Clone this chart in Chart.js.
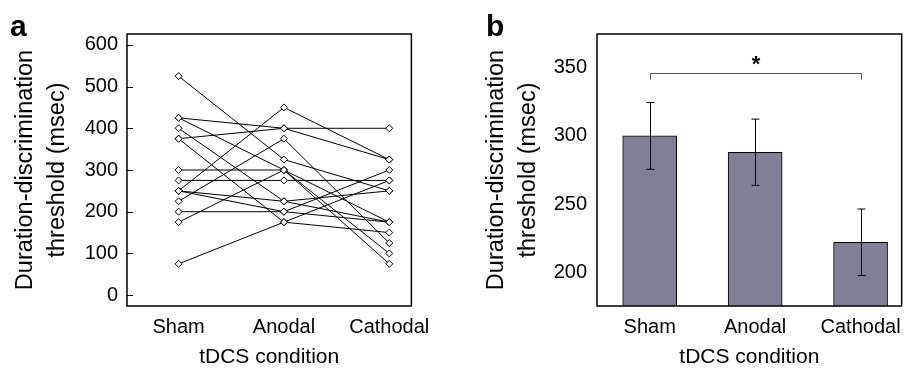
<!DOCTYPE html>
<html>
<head>
<meta charset="utf-8">
<script src="https://cdn.jsdelivr.net/npm/chart.js@4.4.0/dist/chart.umd.min.js"></script>
<style>
    html, body { margin: 0; padding: 0; background: #fff; }
    #wrap { position: relative; width: 910px; height: 370px; overflow: hidden; font-family: "Liberation Sans", Arial, sans-serif; }
    .panel { position: absolute; top: 0; height: 370px; }
    #boxA { left: 0; width: 440px; }
    #boxB { left: 470px; width: 440px; }
    .tag { position: absolute; font-weight: bold; font-size: 30px; line-height: 1; color: #000; }
</style>
</head>
<body>
<div id="wrap">
    <div class="panel" id="boxA"><canvas id="chartA" width="440" height="370"></canvas></div>
    <div class="panel" id="boxB"><canvas id="chartB" width="440" height="370"></canvas></div>
    <div class="tag" style="left:10px;top:11px">a</div>
    <div class="tag" style="left:486px;top:11px">b</div>
</div>
<script>
    // ---------- datos ----------
    const conditions = ['Sham', 'Anodal', 'Cathodal'];

    // panel a: un sujeto por posición
    const shamVals     = [525, 425, 425, 400, 375, 375, 300, 275, 250, 250, 250, 225, 200, 175, 75];
    const anodalVals   = [325, 400, 300, 225, 400, 175, 300, 275, 450, 225, 200, 375, 200, 300, 175];
    const cathodalVals = [250, 400, 75, 250, 325, 275, 100, 275, 325, 175, 300, 125, 175, 175, 150];
    const ticksA = [0, 100, 200, 300, 400, 500, 600];

    // panel b: media y error
    const meanVals = [300, 288, 222];
    const semVals = [24.5, 24.3, 24.4];
    const ticksB = [200, 250, 300, 350];
    const sigLevel = 346;

    const FONT = '"Liberation Sans", Arial, sans-serif';
    const tickFont = { family: FONT, size: 20 };
    const xTitleFont = { family: FONT, size: 21 };
    const yTitleFont = { family: FONT, size: 23.5, lineHeight: 1.38 };

    const frame = {
        id: 'frame',
        afterDraw(chart, args, opts) {
            const { ctx, chartArea: a, scales } = chart;
            ctx.save();
            ctx.strokeStyle = '#000';
            ctx.lineWidth = 1.5;
            ctx.strokeRect(a.left, a.top, a.right - a.left, a.bottom - a.top);
            if (opts.inTicks) {
                ctx.lineWidth = 1;
                scales.y.ticks.forEach(t => {
                    const y = Math.round(scales.y.getPixelForValue(t.value)) + 0.5;
                    ctx.beginPath();
                    ctx.moveTo(a.left, y);
                    ctx.lineTo(a.left + 6, y);
                    ctx.stroke();
                });
            }
            ctx.restore();
        }
    };

    function xScale(min, max) {
        return {
            type: 'linear', min, max, offset: false,
            grid: { display: false, drawTicks: false }, border: { display: false },
            afterBuildTicks: s => { s.ticks = conditions.map((c, i) => ({ value: i })); },
            afterFit: s => { s.height = 64; },
            ticks: { font: tickFont, color: '#000', padding: 9, callback: v => conditions[v] },
            title: { display: true, text: 'tDCS condition', color: '#000', font: xTitleFont, padding: { top: 0, bottom: 0 } }
        };
    }

    function yScale(min, max, ticks, pad, tpad) {
        return {
            min, max,
            grid: { display: false, drawTicks: false }, border: { display: false },
            afterBuildTicks: s => { s.ticks = ticks.map(v => ({ value: v })); },
            afterFit: s => { s.width = 127; },
            ticks: { font: tickFont, color: '#000', padding: pad },
            title: {
                display: true, color: '#000', font: yTitleFont,
                text: ['Duration-discrimination', 'threshold (msec)'],
                padding: { top: tpad, bottom: 0 }
            }
        };
    }

    // ---------- panel a ----------
    const lineSets = shamVals.map((s, i) => ({
        data: [{ x: 0, y: s }, { x: 1, y: anodalVals[i] }, { x: 2, y: cathodalVals[i] }],
        borderColor: '#000', borderWidth: 1, tension: 0, fill: false,
        pointStyle: 'rectRot', pointRadius: 3.5, pointBackgroundColor: '#fff',
        pointBorderColor: '#000', pointBorderWidth: 1
    }));

    new Chart(document.getElementById('chartA'), {
        type: 'line',
        data: { datasets: lineSets },
        options: {
            responsive: false, animation: false,
            layout: { padding: { top: 34, right: 22, left: 0, bottom: 0 } },
            plugins: { legend: { display: false }, tooltip: { enabled: false }, frame: { inTicks: true } },
            scales: { x: xScale(-0.49, 2.21), y: yScale(-26, 626, ticksA, 9, 9) }
        },
        plugins: [frame]
    });

    // ---------- panel b ----------
    const extras = {
        id: 'extras',
        afterDatasetsDraw(chart) {
            const { ctx, scales: { x, y } } = chart;
            ctx.save();
            ctx.strokeStyle = '#000';
            ctx.lineWidth = 1;
            meanVals.forEach((m, i) => {
                const px = Math.round(x.getPixelForValue(i)) + 0.5;
                const hi = y.getPixelForValue(m + semVals[i]);
                const lo = y.getPixelForValue(m - semVals[i]);
                ctx.beginPath();
                ctx.moveTo(px, hi); ctx.lineTo(px, lo);
                ctx.moveTo(px - 4, hi); ctx.lineTo(px + 4, hi);
                ctx.moveTo(px - 4, lo); ctx.lineTo(px + 4, lo);
                ctx.stroke();
            });
            // corchete de significancia
            const by = Math.round(y.getPixelForValue(sigLevel)) + 0.5;
            const x1 = Math.round(x.getPixelForValue(0)) + 0.5;
            const x2 = Math.round(x.getPixelForValue(2)) + 0.5;
            ctx.strokeStyle = '#555';
            ctx.beginPath();
            ctx.moveTo(x1, by + 6); ctx.lineTo(x1, by); ctx.lineTo(x2, by); ctx.lineTo(x2, by + 6);
            ctx.stroke();
            ctx.fillStyle = '#000';
            ctx.font = 'bold 22px ' + FONT;
            ctx.textAlign = 'center';
            ctx.textBaseline = 'alphabetic';
            ctx.fillText('*', (x1 + x2) / 2, by - 3);
            ctx.restore();
        }
    };

    new Chart(document.getElementById('chartB'), {
        type: 'bar',
        data: {
            datasets: [{
                data: meanVals.map((v, i) => ({ x: i, y: v })),
                backgroundColor: '#7f7f97', borderColor: '#000', borderWidth: 1, barThickness: 54
            }]
        },
        options: {
            responsive: false, animation: false,
            layout: { padding: { top: 34, right: 3, left: 0, bottom: 0 } },
            plugins: { legend: { display: false }, tooltip: { enabled: false }, frame: { inTicks: false } },
            scales: { x: xScale(-0.5, 2.39), y: yScale(175.3, 374.7, ticksB, 10, 10) }
        },
        plugins: [frame, extras]
    });
</script>
</body>
</html>
